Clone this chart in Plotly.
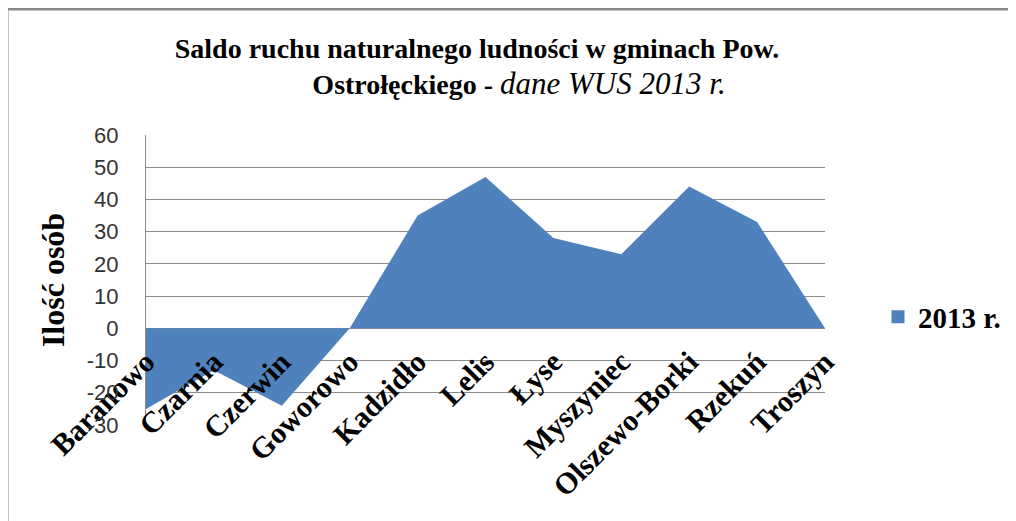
import plotly.graph_objects as go

categories = ["Baranowo", "Czarnia", "Czerwin", "Goworowo", "Kadzidło", "Lelis",
              "Łyse", "Myszyniec", "Olszewo-Borki", "Rzekuń", "Troszyn"]
values_2013 = [-25, -13, -24, 0, 35, 47, 28, 23, 44, 33, 0]
series_name = "2013 r."
y_ticks = [-30, -20, -10, 0, 10, 20, 30, 40, 50, 60]

W, H = 1016, 521
OFF = 8  # page body margin offset
# desired plot area in page pixels
PL, PR, PT, PB = 146, 825, 135, 425
ML, MT = PL - OFF, PT - OFF
MR, MB = W - (PR - OFF), H - (PB - OFF)
PW, PH = PR - PL, PB - PT
BLUE = "#4F81BD"
GRID = "#8C8C8C"
SERIF = "Liberation Serif"


def px_x(p):
    return (p - PL) / PW


def px_y(p):
    return (PB - p) / PH


fig = go.Figure()
fig.add_trace(go.Scatter(
    x=categories, y=values_2013, mode="none", fill="tozeroy",
    fillcolor=BLUE, showlegend=False, name=series_name,
))
fig.add_trace(go.Scatter(
    x=[None], y=[None], mode="markers", name=series_name,
    marker=dict(symbol="square", size=13, color=BLUE), showlegend=True,
))

ymin, ymax = y_ticks[0], y_ticks[-1]
fig.update_layout(
    width=W, height=H,
    margin=dict(l=ML, r=MR, t=MT, b=MB, autoexpand=False),
    paper_bgcolor="white", plot_bgcolor="white",
    title=dict(
        text="<b>Saldo ruchu naturalnego ludności w gminach Pow.</b><br>"
             + "&nbsp;" * 12
             + "<b>Ostrołęckiego - </b><span style='font-size:31px'><i>dane WUS 2013 r.</i></span>",
        x=(477 - OFF) / W, xanchor="center", xref="container",
        y=1 - 50 / H, yanchor="top", yref="container",
        font=dict(family=SERIF, size=28, color="black"),
    ),
    xaxis=dict(
        type="category", range=[0, len(categories) - 1],
        anchor="free", position=(0 - ymin) / (ymax - ymin),
        showgrid=False, showline=False, zeroline=False, ticks="",
        tickangle=-45, ticklabelstandoff=9,
        tickfont=dict(family=SERIF, size=30, color="black", weight="bold"),
    ),
    yaxis=dict(
        range=[ymin, ymax], tickvals=y_ticks, ticktext=[str(v) for v in y_ticks],
        showgrid=True, gridcolor=GRID, gridwidth=1,
        zeroline=True, zerolinecolor=GRID, zerolinewidth=1,
        showline=True, linecolor=GRID, linewidth=1,
        ticks="", ticklabelstandoff=22,
        tickfont=dict(family="Liberation Sans", size=22, color="#333333"),
        title=dict(text="<b>Ilość osób</b>", standoff=12,
                   font=dict(family=SERIF, size=32, color="black")),
    ),
    legend=dict(
        x=px_x(878), xanchor="left", y=px_y(317), yanchor="middle",
        font=dict(family=SERIF, size=29, color="black", weight="bold"),
        bgcolor="rgba(0,0,0,0)",
    ),
    shapes=[
        dict(type="line", xref="paper", yref="paper",
             x0=px_x(7), x1=px_x(7), y0=px_y(9), y1=px_y(H + 20),
             line=dict(color="#888888", width=3)),
        dict(type="line", xref="paper", yref="paper",
             x0=px_x(7), x1=px_x(W + 20), y0=px_y(9), y1=px_y(9),
             line=dict(color="#888888", width=3)),
    ],
)

fig.write_html("out.html")
